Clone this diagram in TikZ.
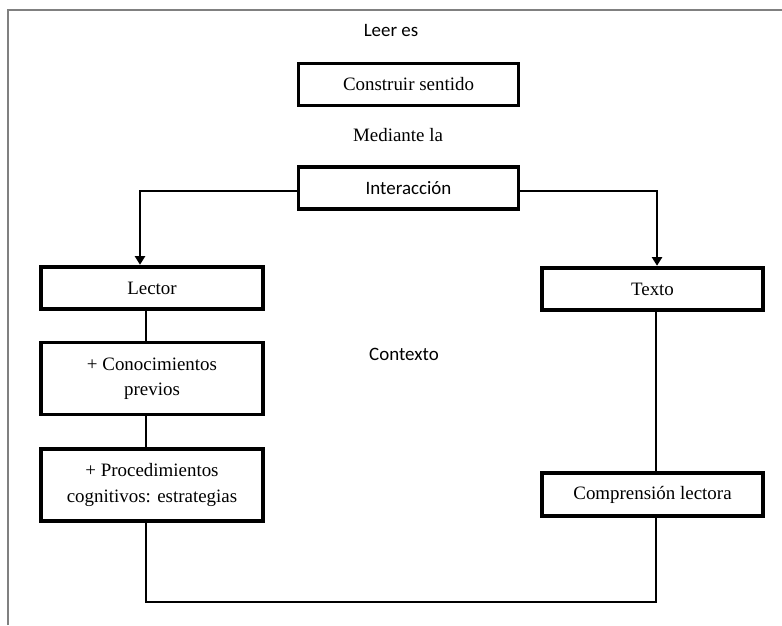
\documentclass[tikz,border=0pt]{standalone}
\usepackage{fontspec}
\setmainfont{Liberation Serif}
\newfontfamily\calibri{Carlito}
\usetikzlibrary{arrows.meta}

\tikzset{
	caja/.style={draw, line width=2.8pt, minimum width=166pt, minimum height=32pt, align=center, inner sep=2pt},
	linea/.style={line width=1.7pt},
	flecha/.style={line width=1.7pt, -{Triangle[width=7.5pt,length=6.5pt]}}
}

\begin{document}
\begin{tikzpicture}[x=0.75pt, y=-0.75pt, font=\fontsize{14.2pt}{18.8pt}\selectfont]
	\useasboundingbox (0,0) rectangle (782,625);
	\draw[gray, line width=1.8pt] (8,625) -- (8,10) -- (782,10);
	
	\node (leer) at (391,30) {\calibri Leer es};
	\node[caja, minimum width=165pt, minimum height=31.5pt] (construir) at (408.5,84.5) {Construir sentido};
	\node (mediante) at (398,135) {Mediante la};
	\node[caja, minimum width=165pt, minimum height=32pt] (interaccion) at (408.5,188) {\calibri Interacción};
	\node (contexto) at (404,354) {\calibri Contexto};
	
	\node[caja] (lector) at (152,288) {Lector};
	\node[caja, minimum height=54pt] (conoc) at (152,378.5) {+ Conocimientos\\previos};
	\node[caja, minimum height=54pt] (proced) at (152,485) {+ Procedimientos\\cognitivos: estrategias};
	\node[caja] (texto) at (652.5,289) {Texto};
	\node[caja] (compren) at (652.5,494.5) {Comprensión lectora};
	
	\draw[flecha] ([yshift=-2pt]interaccion.west) -| ([xshift=-9pt]lector.north);
	\draw[flecha] ([yshift=-2pt]interaccion.east) -| ([xshift=3.4pt]texto.north);
	
	\foreach \a/\b in {lector/conoc, conoc/proced}
	\draw[linea] ([xshift=-4.5pt]\a.south) -- ([xshift=-4.5pt]\b.north);
	\draw[linea] ([xshift=2.6pt]texto.south) -- ([xshift=2.6pt]compren.north);
	\draw[linea] ([xshift=-4.5pt]proced.south) -- ++(0,79) -| ([xshift=2.6pt]compren.south);
\end{tikzpicture}
\end{document}
